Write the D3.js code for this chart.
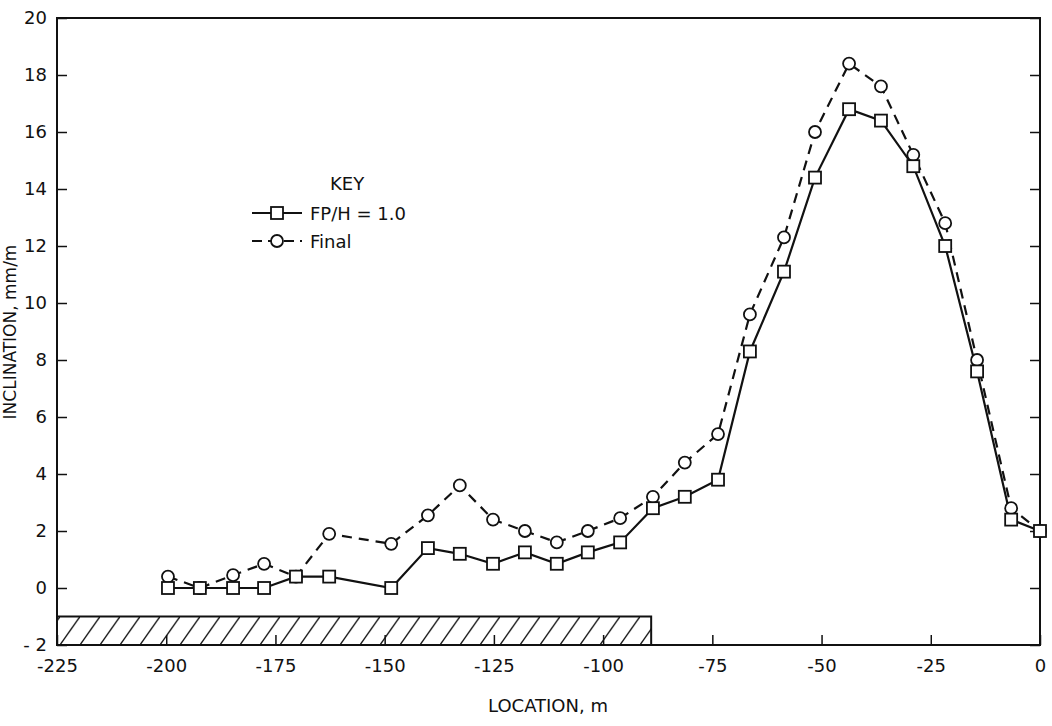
<!DOCTYPE html><html><head><meta charset="utf-8">
<script src="https://cdn.jsdelivr.net/npm/d3@7"></script>
<style>body{margin:0;background:#fff}text{font-family:"DejaVu Sans",sans-serif;fill:#111}</style></head><body>
<svg id="c" width="1052" height="726"></svg>
<script>
const locations=[-199.6,-192.3,-184.7,-177.6,-170.3,-162.7,-148.5,-140.1,-132.8,-125.2,-117.9,-110.6,-103.5,-96.1,-88.6,-81.3,-73.7,-66.4,-58.6,-51.5,-43.7,-36.4,-29.0,-21.7,-14.4,-6.6,0];
const fpH=[0,0,0,0,0.4,0.4,0,1.4,1.2,0.85,1.25,0.85,1.25,1.6,2.8,3.2,3.8,8.3,11.1,14.4,16.8,16.4,14.8,12.0,7.6,2.4,2.0];
const finalV=[0.4,0,0.45,0.85,0.4,1.9,1.55,2.55,3.6,2.4,2.0,1.6,2.0,2.45,3.2,4.4,5.4,9.6,12.3,16.0,18.4,17.6,15.2,12.8,8.0,2.8,2.0];
const xTicks=[-225,-200,-175,-150,-125,-100,-75,-50,-25,0];
const yTicks=[-2,0,2,4,6,8,10,12,14,16,18,20];
const excavation=[-225,-89];
const svg=d3.select("#c");
const x=d3.scaleLinear().domain([-225,0]).range([57,1040]);
const y=d3.scaleLinear().domain([-2,20]).range([645,18]);
const g=svg.append("g");
const defs=svg.append("defs");
const p=defs.append("pattern").attr("id","h").attr("patternUnits","userSpaceOnUse").attr("width",20).attr("height",28.5).attr("x",0).attr("y",y(-1));
p.append("line").attr("x1",0).attr("y1",28.5).attr("x2",20).attr("y2",0).attr("stroke","#111").attr("stroke-width",1.3);
g.append("rect").attr("x",x(excavation[0])).attr("y",y(-1)).attr("width",x(excavation[1])-x(excavation[0])).attr("height",y(-2)-y(-1)).attr("fill","url(#h)").attr("stroke","#111").attr("stroke-width",2);
g.append("rect").attr("x",57).attr("y",18).attr("width",983).attr("height",627).attr("fill","none").attr("stroke","#111").attr("stroke-width",2);
g.append("g").attr("transform","translate(0,645)").call(d3.axisBottom(x).tickValues(xTicks).tickSize(-10).tickPadding(14).tickFormat(d=>d===0?"0":"-"+(-d)))
 .call(a=>{a.select(".domain").remove();a.selectAll("text").attr("font-size",18)});
g.append("g").attr("transform","translate(57,0)").call(d3.axisLeft(y).tickValues(yTicks).tickSize(-10).tickPadding(10).tickFormat(d=>d<0?"- "+(-d):d))
 .call(a=>{a.select(".domain").remove();a.selectAll("text").attr("font-size",18)});
g.append("g").attr("transform","translate(1040,0)").call(d3.axisRight(y).tickValues(yTicks).tickSize(-10).tickFormat(""))
 .call(a=>a.select(".domain").remove());
g.selectAll(".tick line").attr("stroke","#111").attr("stroke-width",1.5);
const line=d3.line().x((d,i)=>x(locations[i])).y(d=>y(d));
g.append("path").datum(finalV).attr("d",line).attr("fill","none").attr("stroke","#111").attr("stroke-width",2.2).attr("stroke-dasharray","10,7");
g.append("path").datum(fpH).attr("d",line).attr("fill","none").attr("stroke","#111").attr("stroke-width",2.2);
g.selectAll(".c").data(finalV).join("circle").attr("cx",(d,i)=>x(locations[i])).attr("cy",d=>y(d)).attr("r",6).attr("fill","#fff").attr("stroke","#111").attr("stroke-width",1.8);
g.selectAll(".s").data(fpH).join("rect").attr("x",(d,i)=>x(locations[i])-6).attr("y",d=>y(d)-6).attr("width",12).attr("height",12).attr("fill","#fff").attr("stroke","#111").attr("stroke-width",1.8);
g.append("text").attr("x",330).attr("y",190).attr("font-size",18).text("KEY");
g.append("line").attr("x1",252).attr("x2",302).attr("y1",213).attr("y2",213).attr("stroke","#111").attr("stroke-width",2.2);
g.append("rect").attr("x",271).attr("y",207).attr("width",12).attr("height",12).attr("fill","#fff").attr("stroke","#111").attr("stroke-width",1.8);
g.append("text").attr("x",310).attr("y",220).attr("font-size",18).text("FP/H = 1.0");
g.append("line").attr("x1",252).attr("x2",302).attr("y1",241).attr("y2",241).attr("stroke","#111").attr("stroke-width",2.2).attr("stroke-dasharray","10,6");
g.append("circle").attr("cx",277).attr("cy",241).attr("r",6).attr("fill","#fff").attr("stroke","#111").attr("stroke-width",1.8);
g.append("text").attr("x",310).attr("y",248).attr("font-size",18).text("Final");
svg.append("text").attr("x",548).attr("y",712).attr("text-anchor","middle").attr("font-size",18).text("LOCATION, m");
svg.append("text").attr("transform","translate(16,332) rotate(-90)").attr("text-anchor","middle").attr("font-size",17).text("INCLINATION, mm/m");
</script></body></html>
